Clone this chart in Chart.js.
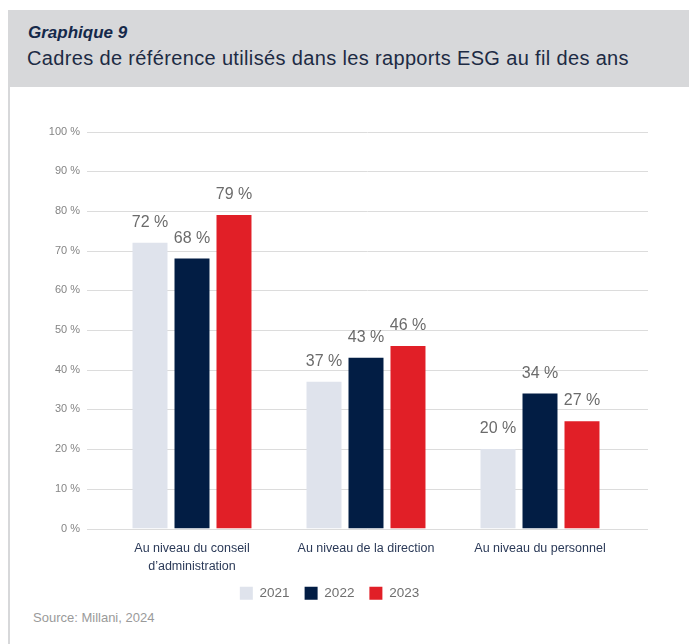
<!DOCTYPE html>
<html>
<head>
<meta charset="utf-8">
<script src="https://cdn.jsdelivr.net/npm/chart.js@4/dist/chart.umd.min.js"></script>
<style>
    body { margin: 0; background: #fff; width: 689px; height: 644px; position: relative; overflow: hidden; font-family: 'Liberation Sans', Arial, sans-serif; }
    #header { position: absolute; left: 8px; top: 10px; width: 681px; height: 77px; background: #d7d8da; }
    #kicker { position: absolute; left: 20px; top: 13px; font-size: 17px; font-weight: bold; font-style: italic; color: #15294a; }
    #title { position: absolute; left: 19px; top: 37px; font-size: 20px; letter-spacing: 0.35px; color: #1d2b44; white-space: nowrap; }
    #border { position: absolute; left: 8px; top: 87px; width: 2px; height: 557px; background: #d7d8da; }
    #wrap { position: absolute; left: 10px; top: 100px; width: 679px; height: 510px; }
    #source { position: absolute; left: 33px; top: 610px; font-size: 13px; color: #9a9a9a; }
</style>
</head>
<body>
<div id="header">
    <div id="kicker">Graphique 9</div>
    <div id="title">Cadres de référence utilisés dans les rapports ESG au fil des ans</div>
</div>
<div id="border"></div>
<div id="wrap"><canvas id="chart"></canvas></div>
<div id="source">Source: Millani, 2024</div>
<script>
const categories = [
    ['Au niveau du conseil', 'd\u2019administration'],
    'Au niveau de la direction',
    'Au niveau du personnel',
];
const years = ['2021', '2022', '2023'];
const values2021 = [72, 37, 20];
const values2022 = [68, 43, 34];
const values2023 = [79, 46, 27];
const colors = ['#dfe3ec', '#021d44', '#e11f27'];

// horizontal grid lines, wider than the plot area
const wideGrid = {
    id: 'wideGrid',
    beforeDatasetsDraw(chart) {
        const { ctx, chartArea, scales } = chart;
        ctx.save();
        ctx.strokeStyle = '#dcdcdc';
        ctx.lineWidth = 1;
        scales.y.ticks.forEach((t) => {
            const y = Math.round(scales.y.getPixelForValue(t.value)) + 0.5;
            ctx.beginPath();
            ctx.moveTo(chartArea.left - 18, y);
            ctx.lineTo(chartArea.right + 21, y);
            ctx.stroke();
        });
        ctx.restore();
    },
};

// value labels above the bars
const barLabels = {
    id: 'barLabels',
    afterDatasetsDraw(chart) {
        const ctx = chart.ctx;
        ctx.save();
        ctx.font = '16px "Liberation Sans", Arial, sans-serif';
        ctx.fillStyle = '#6b6b6b';
        ctx.textAlign = 'center';
        ctx.textBaseline = 'alphabetic';
        chart.data.datasets.forEach((ds, i) => {
            chart.getDatasetMeta(i).data.forEach((bar, j) => {
                ctx.fillText(ds.data[j] + ' %', bar.x, bar.y - 16);
            });
        });
        ctx.restore();
    },
};

new Chart('chart', {
    type: 'bar',
    data: {
        labels: categories,
        datasets: [
            { label: years[0], data: values2021, backgroundColor: colors[0] },
            { label: years[1], data: values2022, backgroundColor: colors[1] },
            { label: years[2], data: values2023, backgroundColor: colors[2] },
        ],
    },
    options: {
        responsive: true,
        maintainAspectRatio: false,
        animation: false,
        layout: { padding: { left: 22, right: 62, top: 30, bottom: 0 } },
        datasets: {
            bar: { categoryPercentage: 0.724, barPercentage: 0.833 },
        },
        scales: {
            x: {
                grid: { display: false, drawTicks: false },
                border: { display: false },
                ticks: {
                    padding: 11,
                    color: '#2b3a58',
                    font: { family: '"Liberation Sans", Arial, sans-serif', size: 12.5, lineHeight: 1.45 },
                },
                afterFit: (scale) => { scale.height = 43; },
            },
            y: {
                min: 0,
                max: 100,
                grid: { display: false, drawTicks: false },
                border: { display: false },
                ticks: {
                    stepSize: 10,
                    padding: 25,
                    color: '#858585',
                    font: { family: '"Liberation Sans", Arial, sans-serif', size: 11 },
                    callback: (v) => v + ' %',
                },
                afterFit: (scale) => { scale.width = 73; },
            },
        },
        plugins: {
            legend: {
                position: 'bottom',
                labels: {
                    boxWidth: 13,
                    boxHeight: 13,
                    padding: 15,
                    color: '#6f6f6f',
                    font: { family: '"Liberation Sans", Arial, sans-serif', size: 13.5 },
                },
            },
            tooltip: { enabled: false },
        },
    },
    plugins: [wideGrid, barLabels],
});
</script>
</body>
</html>
